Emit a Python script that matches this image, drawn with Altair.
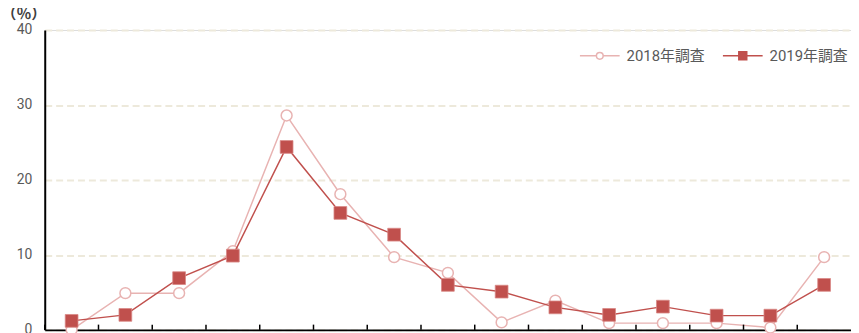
import altair as alt
import pandas as pd

categories = [f"c{i}" for i in range(1, 16)]
series_names = ["2018年調査", "2019年調査"]
values_2018 = [0.0, 4.9, 4.9, 10.5, 28.6, 18.1, 9.7, 7.6, 1.0, 3.9, 0.9, 0.9, 0.9, 0.3, 9.7]
values_2019 = [1.2, 2.0, 6.9, 9.9, 24.4, 15.6, 12.7, 6.0, 5.1, 3.0, 2.0, 3.1, 1.9, 1.9, 6.0]
y_ticks = [0, 10, 20, 30, 40]

rows = []
for c, a, b in zip(categories, values_2018, values_2019):
    rows.append({"cat": c, "series": series_names[0], "value": a})
    rows.append({"cat": c, "series": series_names[1], "value": b})
df = pd.DataFrame(rows)

PINK = "#E8B3B2"
RED = "#C0504D"
FONT = "Roboto, 'Noto Sans CJK JP'"

x_enc = alt.X(
    "cat:N",
    sort=categories,
    scale=alt.Scale(type="band", paddingInner=0, paddingOuter=0),
    axis=alt.Axis(labels=False, ticks=False, title=None, domainColor="#000000",
                  domainWidth=2, grid=False),
)
y_enc = alt.Y(
    "value:Q",
    scale=alt.Scale(domain=[0, 40], nice=False),
    axis=alt.Axis(
        values=y_ticks, ticks=False, labelPadding=13, labelFontSize=14,
        labelColor="#595959", labelFont=FONT, domainColor="#000000", domainWidth=2,
        gridColor="#EDE9DB", gridWidth=2, gridDash=[7, 4],
        title="（％）", titleAngle=0, titleAlign="left", titleBaseline="middle",
        titleX=-44, titleY=-16.5, titleFontSize=15, titleFontWeight="bold",
        titleColor="#404040", titleFont="Noto Sans CJK JP",
    ),
)

base = alt.Chart(df)

line18 = base.transform_filter(alt.datum.series == series_names[0]).mark_line(
    color=PINK, strokeWidth=1.5
).encode(x=x_enc, y=y_enc)
pts18 = base.transform_filter(alt.datum.series == series_names[0]).mark_point(
    shape="circle", filled=False, fill="white", fillOpacity=1, stroke=PINK,
    strokeWidth=1.5, size=120, opacity=1
).encode(x=alt.X("cat:N", sort=categories), y="value:Q")
line19 = base.transform_filter(alt.datum.series == series_names[1]).mark_line(
    color=RED, strokeWidth=1.5
).encode(x=alt.X("cat:N", sort=categories), y="value:Q")
pts19 = base.transform_filter(alt.datum.series == series_names[1]).mark_point(
    shape="square", filled=True, fill=RED, stroke="#D98886", strokeWidth=0.8,
    size=165, opacity=1
).encode(x=alt.X("cat:N", sort=categories), y="value:Q")

ticks = alt.Chart(pd.DataFrame({"cat": categories})).mark_rule(
    color="#000000", strokeWidth=1.5
).encode(
    x=alt.X("cat:N", sort=categories, bandPosition=0),
    y=alt.datum(0),
    y2=alt.datum(0.7),
)

sym18 = ("M-1,0L-0.17,0M0.17,0L1,0"
         "M0.17,0A0.17,0.17,0,1,1,-0.17,0A0.17,0.17,0,1,1,0.17,0Z")
sym19 = "M-1,0L1,0M-0.2,-0.2L0.2,-0.2L0.2,0.2L-0.2,0.2Z"

legend_layer = base.transform_filter("false").mark_point(
    filled=False, strokeWidth=1.5, opacity=1
).encode(
    x=alt.X("cat:N", sort=categories),
    y="value:Q",
    color=alt.Color("series:N", scale=alt.Scale(domain=series_names, range=[PINK, RED]),
                    legend=alt.Legend(
                        orient="none", legendX=538, legendY=5, direction="horizontal",
                        title=None, symbolSize=1600, symbolStrokeWidth=1.5,
                        labelFontSize=15, labelColor="#595959", labelFont=FONT,
                        columnPadding=15, labelOffset=6, padding=0,
                        symbolOpacity=1, symbolFillColor="white")),
    fill=alt.Fill("series:N", scale=alt.Scale(domain=series_names, range=["#FFFFFF", RED]),
                  legend=alt.Legend(orient="none", legendX=538, legendY=5,
                                    direction="horizontal", title=None)),
    shape=alt.Shape("series:N", scale=alt.Scale(domain=series_names, range=[sym18, sym19]),
                    legend=alt.Legend(orient="none", legendX=538, legendY=5,
                                      direction="horizontal", title=None)),
)

chart = alt.layer(line18, pts18, line19, pts19, ticks, legend_layer).properties(
    width=812, height=302,
    autosize=alt.AutoSizeParams(type="none"),
    padding={"left": 37, "top": 21, "right": 0, "bottom": 4},
).configure_view(
    stroke="#6b6b6b", strokeWidth=1
).configure(background="white")

chart.save("out.html", embed_options={"renderer": "svg", "actions": False})
